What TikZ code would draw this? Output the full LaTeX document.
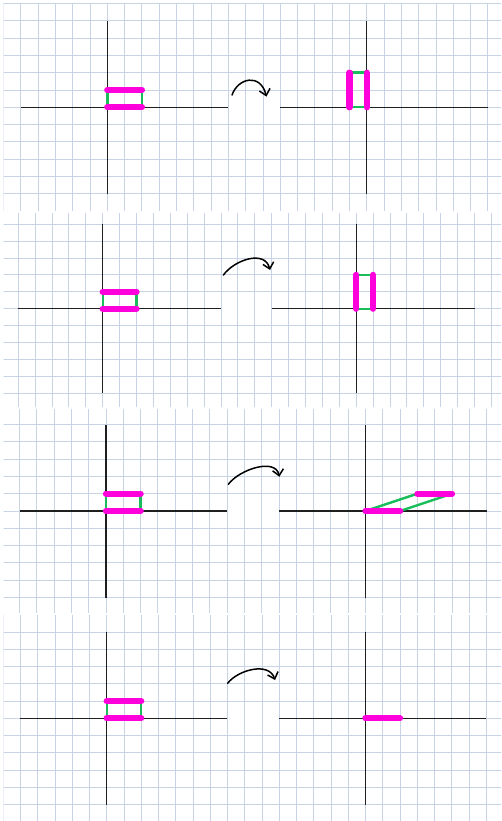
\documentclass[tikz,border=0pt]{standalone}
\usetikzlibrary{arrows.meta}
\definecolor{gridc}{RGB}{200,211,230}
\definecolor{mag}{RGB}{255,0,220}
\definecolor{grn}{RGB}{25,190,90}
\tikzset{
  gridline/.style={draw=gridc, line width=0.9pt},
  axis/.style={draw=black!88, line width=1.3pt},
  bar/.style={draw=mag, line width=6.3pt, line cap=round},
  link/.style={draw=grn, line width=2.4pt},
  turn/.style={draw=black, line width=1.5pt, line cap=round, -{Straight Barb[length=6pt,width=11pt,line width=1.5pt]}},
}
\newcommand{\notegrid}{%
  \foreach \k in {-6,...,24} \draw[gridline] (\k,-7) -- (\k,7);
  \foreach \j in {-6,...,-1,1,2,...,6} \draw[gridline] (-7,\j) -- (25,\j);
  \draw[gridline] (-7,0) -- (-5,0);
  \draw[gridline] (22,0) -- (25,0);
  \draw[axis] (-5,0) -- (7,0);
  \draw[axis] (0,-5) -- (0,5);
  \draw[axis] (10,0) -- (22,0);
  \draw[axis] (15,-5) -- (15,5);
  \draw[link] (0,0) -- (0,1);
  \draw[link] (2,0) -- (2,1);
  \draw[bar] (0,0) -- (2,0);
  \draw[bar] (0,1) -- (2,1);
}
\begin{document}
\begin{tikzpicture}[x=1pt,y=-1pt]
\useasboundingbox (0,0) rectangle (501,821);
\fill[white] (0,0) rectangle (501,821);

% ---------- panel 1
\begin{scope}
  \clip (3.5,3.5) rectangle (501,210);
  \begin{scope}[shift={(107.3,107.3)}, x=17.3pt, y=17.3pt]
    \notegrid
    \draw[link] (14,0) -- (15,0);
    \draw[link] (14,2) -- (15,2);
    \draw[bar] (14,0) -- (14,2);
    \draw[bar] (15,0) -- (15,2);
    \coordinate (s1) at (7.21,0.71);
    \coordinate (e1) at (9.2,0.62);
    \draw[turn] (s1) .. controls (7.55,1.7) and (8.85,2.0) .. (e1);
  \end{scope}
\end{scope}

% ---------- panel 2
\begin{scope}
  \clip (3.5,213) rectangle (501,406);
  \begin{scope}[shift={(102.7,308.7)}, x=16.9pt, y=16.9pt]
    \notegrid
    \draw[link] (15,0) -- (16,0);
    \draw[link] (15,2) -- (16,2);
    \draw[bar] (15,0) -- (15,2);
    \draw[bar] (16,0) -- (16,2);
    \coordinate (s2) at (7.14,1.99);
    \coordinate (e2) at (9.9,2.29);
    \draw[turn] (s2) .. controls (7.8,2.9) and (9.6,3.5) .. (e2);
  \end{scope}
\end{scope}

% ---------- panel 3
\begin{scope}
  \clip (3.5,409) rectangle (501,612);
  \begin{scope}[shift={(106,511)}, x=17.3pt, y=17.3pt]
    \notegrid
    \draw[link] (15,0) -- (18,1);
    \draw[link] (17,0) -- (20,1);
    \draw[bar] (15,0) -- (17,0);
    \draw[bar] (18,1) -- (20,1);
    \coordinate (s3) at (7.07,1.54);
    \coordinate (e3) at (10.02,1.98);
    \draw[turn] (s3) .. controls (7.7,2.4) and (9.8,3.1) .. (e3);
  \end{scope}
\end{scope}

% ---------- panel 4
\begin{scope}
  \clip (3.5,615) rectangle (501,821);
  \begin{scope}[shift={(106.7,718.3)}, x=17.25pt, y=17.25pt]
    \notegrid
    \draw[bar] (15,0) -- (17,0);
    \coordinate (s4) at (7.01,2.03);
    \coordinate (e4) at (9.76,2.22);
    \draw[turn] (s4) .. controls (7.6,2.8) and (9.4,3.3) .. (e4);
  \end{scope}
\end{scope}
\end{tikzpicture}
\end{document}
